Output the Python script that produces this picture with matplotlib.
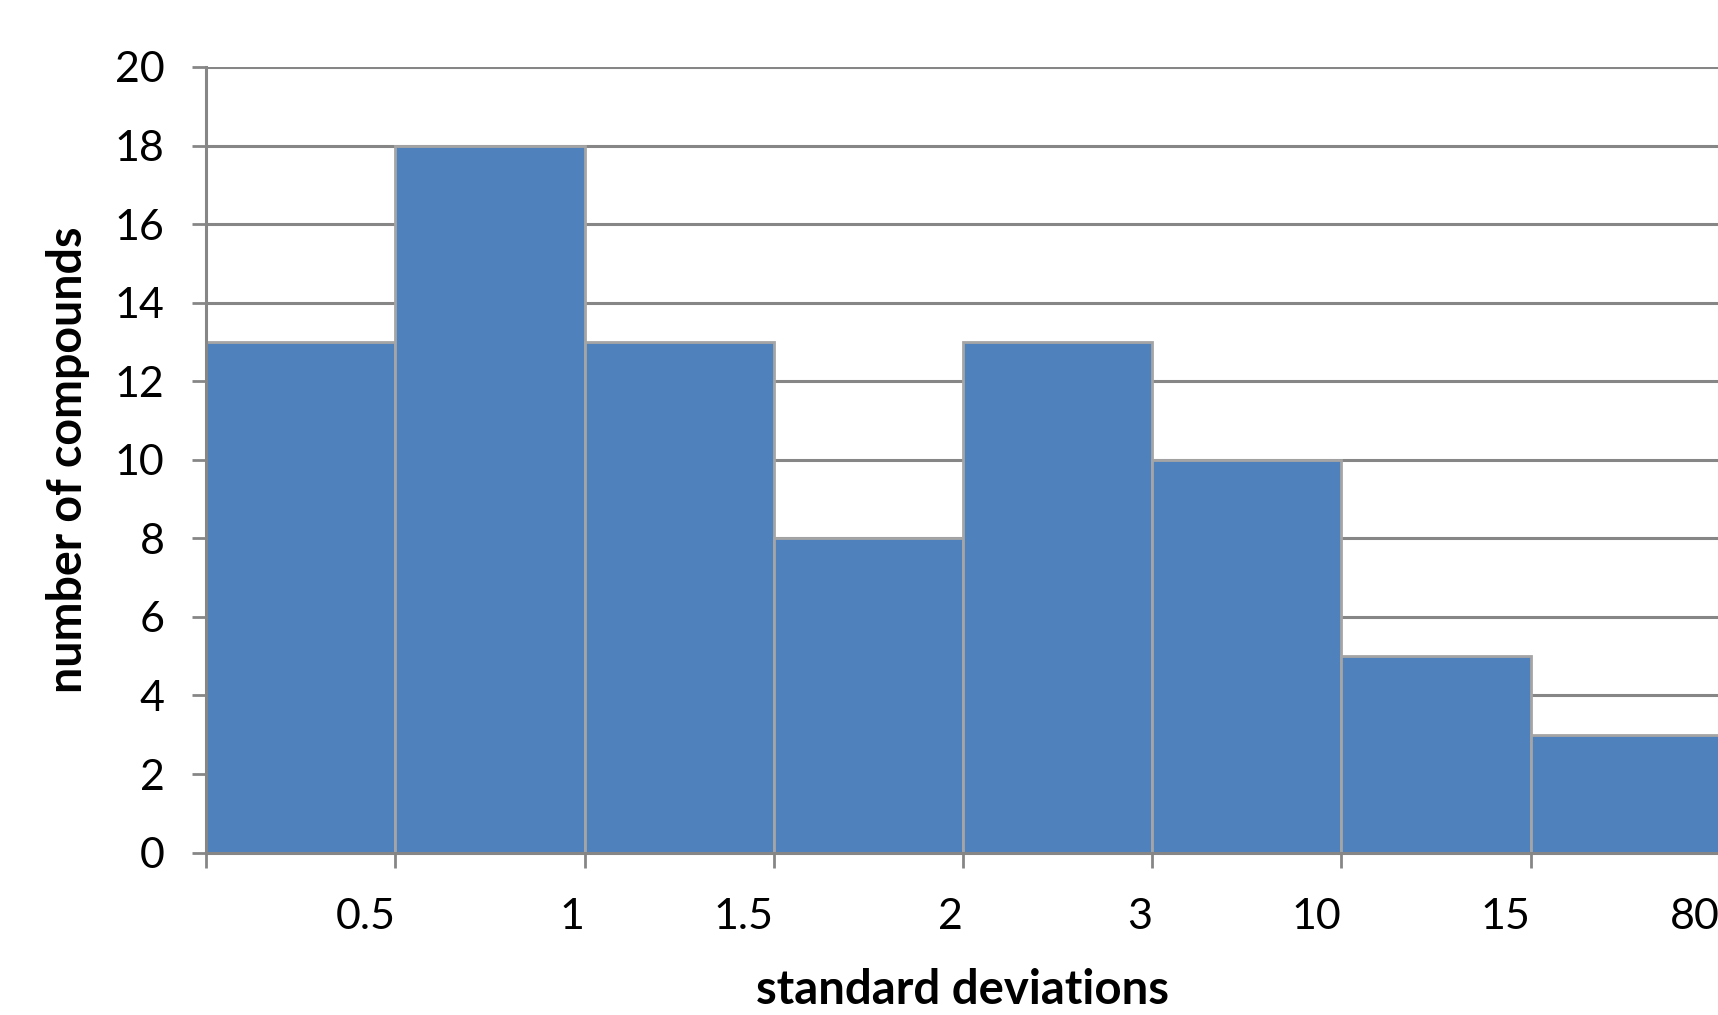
import matplotlib
matplotlib.use("Agg")
import matplotlib.pyplot as plt

# histogram of compounds by standard deviation bin
bin_labels = ['0.5', '1', '1.5', '2', '3', '10', '15', '80']
counts = [13, 18, 13, 8, 13, 10, 5, 3]

bar_color = '#4F81BD'
edge_color = '#A5A5A5'
grid_color = '#868686'

plt.rcParams['font.family'] = ['Lato', 'DejaVu Sans']

fig = plt.figure(figsize=(17.18, 10.15), dpi=100)
ax = fig.add_axes([0.12, 0.16, 0.881, 0.774])

pos = [i + 0.5 for i in range(len(counts))]
ax.bar(pos, counts, width=1.0, color=bar_color, edgecolor=edge_color,
       linewidth=2, zorder=3)

ax.set_xlim(0, len(counts))
ax.set_ylim(0, 20)
ax.set_yticks(range(0, 21, 2))
ax.set_xticks(range(len(counts) + 1))
ax.set_xticklabels([''] + bin_labels, ha='right')

ax.yaxis.grid(True, color=grid_color, linewidth=2.2, zorder=0)
ax.set_axisbelow(True)
for s in ['top', 'right']:
    ax.spines[s].set_visible(False)
for s in ['left', 'bottom']:
    ax.spines[s].set_color(grid_color)
    ax.spines[s].set_linewidth(2.2)
    ax.spines[s].set_zorder(4)

ax.tick_params(axis='x', length=11, width=2, color=grid_color, pad=22, labelsize=31)
ax.tick_params(axis='y', length=10, width=2, color=grid_color, pad=20, labelsize=31)

ax.set_xlabel('standard deviations', fontsize=34, fontweight='bold', labelpad=23)
ax.set_ylabel('number of compounds', fontsize=33.5, fontweight='bold', labelpad=18)

fig.savefig('out.png', dpi=100)
